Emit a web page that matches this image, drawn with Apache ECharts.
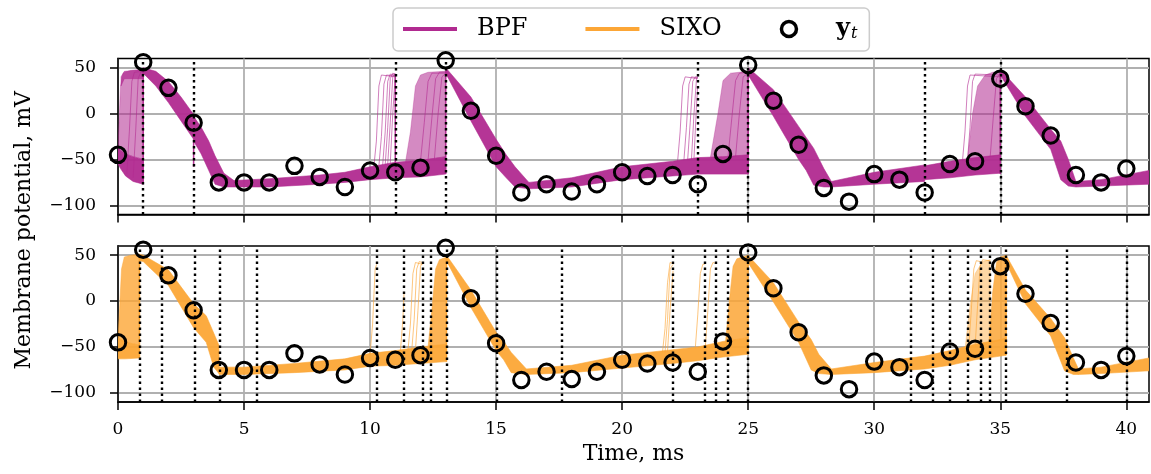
<!DOCTYPE html>
<html><head><meta charset="utf-8">
<script src="https://cdn.jsdelivr.net/npm/echarts@6/dist/echarts.min.js"></script>
<style>html,body{margin:0;padding:0;background:#fff}#c{width:1151px;height:474px}</style>
</head><body><div id="c"></div>
<script>
// ---------------- data ----------------
const obsTimes = [0,1,2,3,4,5,6,7,8,9,10,11,12,13,14,15,16,17,18,19,20,21,22,23,24,25,26,27,28,29,30,31,32,33,34,35,36,37,38,39,40];
const obsValues = [-45,56,28,-10,-75,-75,-75,-57,-69,-80,-62,-64,-59,58,3,-46,-86,-77,-85,-77,-64,-68,-67,-77,-44,53,14,-34,-81,-96,-66,-72,-86,-55,-52,38,8,-24,-67,-75,-60];
const xTicks = [0,5,10,15,20,25,30,35,40];
const yTicks = [-100,-50,0,50];
const bpfResampleTimes = [1,3,11,13,23,25,32,35];
const sixoResampleTimes = [0.85,1.73,3.03,4.02,5.52,10.26,11.35,12.08,12.41,13.03,15.01,17.59,22.02,23.27,23.71,24.17,24.99,31.46,32.32,33.01,33.71,34.21,34.57,35.23,37.63,40.01];

// particle envelopes, rows [t, lower, upper]
const bpfCoreA = [[0,-55,-37],[0.1,-60,-40],[0.3,-68,-44],[0.6,-74,-47],[1,-77,-50]];
const bpfFanA  = [[0,-37,-37],[0.04,-40,-10],[0.1,-40,30],[0.2,-42,44],[0.5,-46,47],[1,-50,48]];
const bpfTopA  = [[0.12,30,40],[0.25,38,46],[1,38,48]];
const bpfCoreB = [[1,44,50],[1.5,30,46],[2,12,35],[2.5,-8,18],[3,-28,-1]];
const bpfCoreC = [[3,-30,-3],[3.3,-44,-15],[3.6,-62,-30],[3.85,-77,-46],[4.2,-80,-65],[4.6,-80,-73]];
const bpfCoreD = [[4.6,-80,-73],[6,-80,-71],[8,-77,-67],[9,-75,-64],[10,-72,-58],[11,-70,-53]];
const bpfCoreE = [[11,-70,-53],[12,-69,-51],[13,-66,-47]];
const bpfFanE  = [[11.4,-54,-54],[11.6,-53,-20],[11.8,-52,30],[12.0,-52,42],[12.3,-50,45],[13,-47,46]];
const bpfCoreF = [[13,44,50],[14,-8,18],[15,-58,-28],[15.4,-70,-45],[15.75,-80,-58],[16.3,-82,-75]];
const bpfCoreG = [[16.3,-82,-75],[18,-80,-70],[20,-72,-58],[22,-68,-52],[23,-66,-48]];
const bpfCoreH = [[23,-66,-48],[24,-66,-47],[25,-66,-45]];
const bpfFanH  = [[23.5,-48,-48],[23.8,-48,0],[24.0,-47,36],[24.3,-47,44],[25,-45,46]];
const bpfCoreI = [[25,42,50],[26,-3,26],[27,-50,-14],[27.3,-62,-26],[27.6,-78,-38],[28,-80,-60],[28.3,-80,-74]];
const bpfCoreJ = [[28.3,-80,-74],[30,-77,-64],[32,-74,-56]];
const bpfCoreK = [[32,-72,-57],[33,-70,-52],[34,-67,-48],[35,-65,-45]];
const bpfFanK  = [[33.7,-50,-50],[33.9,-49,0],[34.1,-49,30],[34.4,-48,42],[34.7,-47,45],[35,-45,46]];
const bpfCoreL = [[35,42,48],[36,-3,18],[37,-39,-17],[37.4,-72,-30],[37.7,-79,-50],[38,-80,-74]];
const bpfCoreM = [[38,-80,-74],[39,-79,-72],[40.9,-77,-62]];

// individual spiking trajectories, [t, v]
const bpfSpikes10 = [
  [[10.15,-58],[10.25,-30],[10.35,30],[10.45,42],[11,40]],
  [[10.35,-57],[10.45,-25],[10.55,32],[10.65,42],[11,41]],
  [[10.5,-56],[10.6,-20],[10.7,35],[10.8,43],[11,42]],
  [[10.6,-56],[10.7,-15],[10.8,38],[10.9,44],[11,43]],
  [[10.7,-55],[10.8,-10],[10.9,40],[11,44]],
  [[10.8,-55],[10.9,0],[11,42]]
];
const bpfSpikesFan = [
  [[12.0,-52],[12.15,-10],[12.3,35],[12.45,44],[13,44]],
  [[12.3,-51],[12.45,-5],[12.6,38],[12.75,45],[13,45]],
  [[12.55,-50],[12.7,0],[12.85,40],[13,44]],
  [[24.2,-47],[24.35,-5],[24.5,36],[24.65,44],[25,45]],
  [[24.5,-47],[24.65,0],[24.8,40],[25,44]],
  [[34.6,-47],[34.72,-5],[34.85,38],[35,44]],
  [[0.35,-66],[0.45,-20],[0.55,35],[0.65,45],[1,46]],
  [[0.6,-70],[0.7,-20],[0.8,38],[0.9,45],[1,46]]
];
const bpfSpikes22 = [
  [[22.2,-52],[22.3,-20],[22.4,30],[22.5,40],[23,38]],
  [[22.45,-51],[22.55,-15],[22.65,32],[22.75,40],[23,39]],
  [[22.6,-50],[22.7,-10],[22.8,35],[22.9,40],[23,40]],
  [[22.75,-50],[22.85,0],[22.95,38],[23,40]],
  [[22.85,-49],[22.95,10],[23,30]]
];
const bpfSpikes33 = [
  [[33.5,-52],[33.6,-20],[33.7,30],[33.8,42],[35,40]],
  [[33.7,-51],[33.8,-15],[33.9,35],[34.0,43],[35,42]]
];
const bpfJumps = [[[1,-77],[1,46]],[[3,-58],[3,-28]],[[11,-64],[11,43]],[[13,-66],[13,46]],[[25,-66],[25,46]],[[35,-66],[35,47]]];

const sixoCoreA = [[0,-63,-40],[0.3,-63,-45],[0.85,-62,-48]];
const sixoFanA  = [[0,-40,-40],[0.06,-42,-10],[0.14,-44,35],[0.25,-45,48],[0.5,-46,50],[0.85,-48,51]];
const sixoCoreB = [[0.85,44,51],[1,43,50],[2,17,34],[3,-29,-3],[3.5,-45,-16],[3.8,-72,-35],[4.0,-79,-48],[4.02,-80,-72]];
const sixoCoreC = [[4.02,-80,-72],[5,-80,-72],[7,-78,-68],[9,-75,-63],[10,-71,-57],[11,-70,-54],[12,-68,-50],[13.03,-66,-47]];
const sixoFanC  = [[12.3,-50,-50],[12.45,-50,-10],[12.6,-49,35],[12.75,-49,45],[13.03,-48,48]];
const sixoCoreD = [[13.03,44,50],[14,-7,12],[15,-54,-34],[15.3,-64,-44],[15.6,-78,-56],[16.2,-80,-74]];
const sixoCoreE = [[16.2,-80,-74],[18,-78,-70],[20,-73,-59],[22,-68,-53],[23,-65,-50],[24,-61,-44],[24.99,-58,-40]];
const sixoFanE  = [[24.1,-45,-45],[24.25,-44,0],[24.4,-43,38],[24.55,-42,46],[24.99,-40,50]];
const sixoCoreF = [[24.99,42,50],[26,-1,20],[27,-45,-23],[27.5,-75,-42],[27.8,-79,-58],[28.3,-80,-74]];
const sixoCoreG = [[28.3,-80,-74],[30,-78,-67],[32,-74,-60],[33,-70,-54],[34,-64,-47],[35,-60,-42],[35.23,-59,-40]];
const sixoFanG  = [[33.6,-52,-52],[33.8,-51,-5],[34.0,-50,30],[34.3,-49,43],[34.6,-46,45]];
const sixoFanG2 = [[34.55,-46,-46],[34.7,-45,10],[34.85,-44,42],[35.0,-43,48],[35.23,-41,50]];
const sixoCoreH = [[35.23,42,50],[36,-3,12],[37,-38,-19],[37.55,-76,-40],[37.9,-80,-62],[38.1,-80,-74]];
const sixoCoreI = [[38.1,-80,-74],[39,-79,-72],[40.9,-76,-62]];

const sixoSpikes10 = [[[10.0,-58],[10.1,-25],[10.2,35],[10.26,40]]];
const sixoSpikes11 = [
  [[11.2,-56],[11.3,-20],[11.35,10]],
  [[11.5,-55],[11.6,-25],[11.7,30],[11.8,42],[12.08,40]],
  [[11.65,-55],[11.75,-20],[11.85,35],[11.95,43],[12.08,42]],
  [[11.8,-54],[11.9,-10],[12.0,38],[12.08,42]]
];
const sixoSpikes22 = [
  [[21.6,-56],[21.7,-30],[21.8,20],[21.9,42],[22.02,41]],
  [[21.7,-56],[21.8,-20],[21.9,35],[22.02,40]],
  [[21.8,-55],[21.9,-10],[22.02,33]],
  [[22.9,-52],[23.0,-15],[23.1,30],[23.2,40],[23.27,40]],
  [[23.3,-50],[23.4,-10],[23.5,35],[23.6,42],[23.71,41]]
];
const sixoSpikes34 = [
  [[33.75,-51],[33.85,-10],[33.95,35],[34.05,44],[34.21,43]],
  [[34.0,-50],[34.1,-5],[34.2,38],[34.3,45],[34.57,44]]
];
const sixoJumps = [[[0.85,-62],[0.85,50]],[[13.03,-66],[13.03,48]],[[24.99,-58],[24.99,50]],[[35.23,-59],[35.23,50]]];

// ---------------- styling ----------------
const BPF_COLOR = '#b12a90';
const SIXO_COLOR = '#fca636';
const FONT = 'DejaVu Serif';
const CORE = 0.95, FAN = 0.55;

function bands(list, a) { return list.map(r => ({rows: r, alpha: a})); }
function lines(list, a, w) { return list.map(p => ({pts: p, alpha: a, w: w})); }

const bpfShapes = [].concat(
  bands([bpfFanA, bpfFanE, bpfFanH, bpfFanK], FAN),
  bands([bpfTopA], 0.7),
  bands([bpfCoreA, bpfCoreB, bpfCoreC, bpfCoreD, bpfCoreE, bpfCoreF, bpfCoreG, bpfCoreH, bpfCoreI, bpfCoreJ, bpfCoreK, bpfCoreL, bpfCoreM], CORE),
  lines(bpfSpikes10.concat(bpfSpikes22, bpfSpikes33, bpfSpikesFan), 0.75, 0.8),
  lines(bpfJumps, 0.95, 1.5)
);
const sixoShapes = [].concat(
  bands([sixoFanG], 0.45),
  bands([sixoFanA], 0.8),
  bands([sixoFanC, sixoFanE, sixoFanG2], 0.85),
  bands([sixoCoreA, sixoCoreB, sixoCoreC, sixoCoreD, sixoCoreE, sixoCoreF, sixoCoreG, sixoCoreH, sixoCoreI], CORE),
  lines(sixoSpikes10.concat(sixoSpikes11, sixoSpikes22, sixoSpikes34), 0.8, 0.8),
  lines(sixoJumps, 0.95, 1.5)
);

function renderer(shapes, color) {
  return function (params, api) {
    const s = shapes[params.dataIndex];
    if (s.rows) {
      const up = s.rows.map(r => api.coord([r[0], r[2]]));
      const lo = s.rows.map(r => api.coord([r[0], r[1]])).reverse();
      return {type: 'polygon', shape: {points: up.concat(lo)},
              style: {fill: color, stroke: color, lineWidth: 0.6, opacity: s.alpha}};
    }
    return {type: 'polyline', shape: {points: s.pts.map(p => api.coord(p))},
            style: {stroke: color, fill: null, lineWidth: s.w, opacity: s.alpha}};
  };
}

const fmt = v => (v < 0 ? '\u2212' + Math.abs(v) : String(v));

function xAx(gi, labels) {
  return {
    type: 'value', gridIndex: gi, min: 0, max: 40.9,
    axisLine: {show: true, onZero: false, lineStyle: {color: '#000', width: 1.5}},
    axisTick: {show: true, inside: false, length: 8, customValues: xTicks, lineStyle: {color: '#000', width: 1.5}},
    axisLabel: {show: labels, customValues: xTicks, margin: 19, fontFamily: FONT, fontSize: 17, color: '#000', formatter: fmt},
    splitLine: {show: true, lineStyle: {color: '#b0b0b0', width: 1.8}},
    name: labels ? 'Time, ms' : '', nameLocation: 'middle', nameGap: 41,
    nameTextStyle: {fontFamily: FONT, fontSize: 22, color: '#000', verticalAlign: 'top'}
  };
}
function yAx(gi) {
  return {
    type: 'value', gridIndex: gi, min: -110, max: 60,
    axisLine: {show: true, lineStyle: {color: '#000', width: 1.5}},
    axisTick: {show: true, inside: false, length: 8, customValues: yTicks, lineStyle: {color: '#000', width: 1.5}},
    axisLabel: {customValues: yTicks, margin: 22, fontFamily: FONT, fontSize: 17, color: '#000', formatter: fmt},
    splitLine: {show: true, lineStyle: {color: '#b0b0b0', width: 1.8}}
  };
}

const obsData = obsTimes.map((t, i) => [t, obsValues[i]]);
const lineIcon = 'path://M0,0L54,0L54,4L0,4Z';
const dotted = {color: '#000', type: [2.4, 3.6], width: 2.4, opacity: 1};
const circleStyle = {color: 'rgba(0,0,0,0)', borderColor: '#000', borderWidth: 3, opacity: 1};

const option = {
  animation: false,
  backgroundColor: '#fff',
  legend: {
    left: 393, top: 8, padding: [9, 12, 9, 10], itemGap: 58, itemWidth: 54, itemHeight: 15,
    borderColor: '#cccccc', borderWidth: 1.5, borderRadius: 5, backgroundColor: '#fff',
    selectedMode: false,
    textStyle: {fontFamily: FONT, fontSize: 24, color: '#000', padding: [0, 0, 0, 15],
      rich: {
        y: {fontFamily: FONT, fontSize: 24, fontWeight: 'bold', color: '#000'},
        t: {fontFamily: FONT, fontSize: 16, fontStyle: 'italic', color: '#000', padding: [10, 0, 0, 1]}
      }},
    formatter: n => (n === 'yt' ? '{y|y}{t|t}' : n),
    data: [
      {name: 'BPF', icon: lineIcon, itemStyle: {color: BPF_COLOR, borderWidth: 0}},
      {name: 'SIXO', icon: lineIcon, itemStyle: {color: SIXO_COLOR, borderWidth: 0}},
      {name: 'yt', icon: 'circle', itemStyle: {color: 'rgba(0,0,0,0)', borderColor: '#000', borderWidth: 3.5, opacity: 1}}
    ]
  },
  grid: [
    {left: 118, top: 58.5, width: 1031, height: 156, show: true, borderColor: '#000', borderWidth: 1.5, backgroundColor: 'rgba(0,0,0,0)'},
    {left: 118, top: 246, width: 1031, height: 156, show: true, borderColor: '#000', borderWidth: 1.5, backgroundColor: 'rgba(0,0,0,0)'},
    {left: 118, top: 58.5, width: 1031, height: 343.5, show: false}
  ],
  xAxis: [xAx(0, false), xAx(1, true), {type: 'value', gridIndex: 2, min: 0, max: 1, show: false}],
  yAxis: [yAx(0), yAx(1), {
    type: 'value', gridIndex: 2, min: 0, max: 1, name: 'Membrane potential, mV', nameLocation: 'middle', nameGap: 83,
    nameTextStyle: {fontFamily: FONT, fontSize: 22, color: '#000'},
    axisLine: {show: false}, axisTick: {show: false}, axisLabel: {show: false}, splitLine: {show: false}
  }],
  series: [
    {type: 'custom', name: 'BPF', coordinateSystem: 'cartesian2d', xAxisIndex: 0, yAxisIndex: 0, z: 2,
     itemStyle: {color: BPF_COLOR}, clip: true,
     data: bpfShapes.map((s, i) => [i, 0]), renderItem: renderer(bpfShapes, BPF_COLOR)},
    {type: 'custom', name: 'SIXO', coordinateSystem: 'cartesian2d', xAxisIndex: 1, yAxisIndex: 1, z: 2,
     itemStyle: {color: SIXO_COLOR}, clip: true,
     data: sixoShapes.map((s, i) => [i, 0]), renderItem: renderer(sixoShapes, SIXO_COLOR)},
    {type: 'scatter', name: 'yt', xAxisIndex: 0, yAxisIndex: 0, z: 5, symbol: 'circle', symbolSize: 15.5,
     itemStyle: circleStyle, data: obsData,
     markLine: {silent: true, symbol: ['none', 'none'], label: {show: false}, lineStyle: dotted,
       emphasis: {disabled: true}, data: bpfResampleTimes.map(t => ({xAxis: t}))}},
    {type: 'scatter', name: 'yt', xAxisIndex: 1, yAxisIndex: 1, z: 5, symbol: 'circle', symbolSize: 15.5,
     itemStyle: circleStyle, data: obsData,
     markLine: {silent: true, symbol: ['none', 'none'], label: {show: false}, lineStyle: dotted,
       emphasis: {disabled: true}, data: sixoResampleTimes.map(t => ({xAxis: t}))}}
  ]
};

const chart = echarts.init(document.getElementById('c'), null, {renderer: 'canvas'});
chart.setOption(option);
</script>
</body></html>
